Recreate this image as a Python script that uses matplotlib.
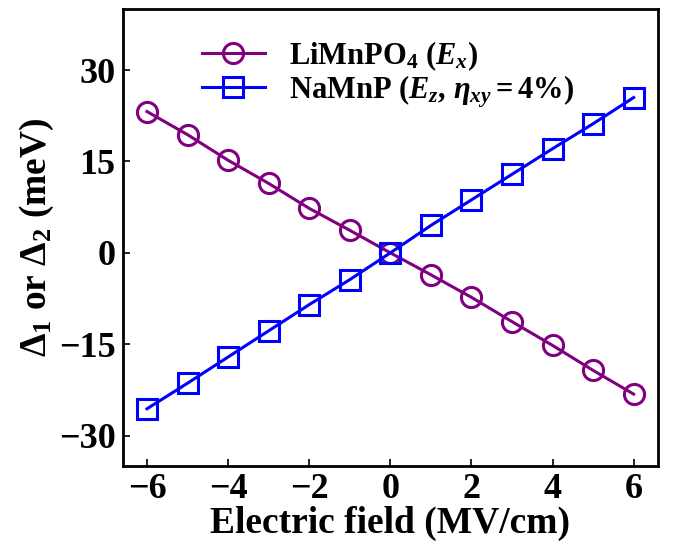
import matplotlib
matplotlib.use("Agg")
import matplotlib.pyplot as plt

field = [-6, -5, -4, -3, -2, -1, 0, 1, 2, 3, 4, 5, 6]
limnpo4 = [23.2, 19.4, 15.2, 11.4, 7.3, 3.7, 0.0, -3.6, -7.3, -11.3, -15.2, -19.3, -23.2]
namnp = [-25.6, -21.4, -17.1, -12.8, -8.5, -4.4, 0.0, 4.5, 8.7, 12.9, 17.1, 21.2, 25.5]
xticks = [-6, -4, -2, 0, 2, 4, 6]
yticks = [-30, -15, 0, 15, 30]
label1 = r"LiMnPO$_4$ ($E_x$)"
label2 = r"NaMnP ($E_z$, $\eta_{xy} = 4\%$)"

plt.rcParams['font.family'] = ['Liberation Serif', 'DejaVu Serif']
plt.rcParams['font.weight'] = 'bold'
plt.rcParams['mathtext.fontset'] = 'custom'
plt.rcParams['mathtext.rm'] = 'Liberation Serif:bold'
plt.rcParams['mathtext.bf'] = 'Liberation Serif:bold'
plt.rcParams['mathtext.it'] = 'Liberation Serif:bold:italic'
plt.rcParams['axes.unicode_minus'] = True

fig = plt.figure(figsize=(6.73, 5.44), dpi=100)
ax = fig.add_axes([0.1823, 0.1434, 0.7954, 0.8396])

ax.plot(field, limnpo4, '-o', color='#800080', lw=2.2, ms=14.5, mfc='none', mew=2.2, label=label1)
ax.plot(field, namnp, '-s', color='#0000FF', lw=2.2, ms=14.5, mfc='none', mew=2.2, label=label2)

ax.set_xlim(-6.6, 6.6)
ax.set_ylim(-35, 40)
ax.set_xticks(xticks)
ax.set_yticks(yticks)
ax.tick_params(direction='in', length=5, width=1.2, labelsize=26, top=False, right=False, pad=5)
for lab in ax.get_xticklabels() + ax.get_yticklabels():
    lab.set_fontweight('bold')
for s in ax.spines.values():
    s.set_linewidth(2)

ax.set_xlabel('Electric field (MV/cm)', fontsize=27, fontweight='bold', labelpad=0)
ax.set_ylabel(r'$\Delta_1$ or $\Delta_2$ (meV)', fontsize=27, fontweight='bold', labelpad=2)

leg = ax.legend(loc='upper left', bbox_to_anchor=(0.148, 0.934), frameon=False, fontsize=22,
                handlelength=2.05, handletextpad=0.8, labelspacing=0.0, borderpad=0,
                borderaxespad=0)

fig.savefig('out.png', dpi=100)
